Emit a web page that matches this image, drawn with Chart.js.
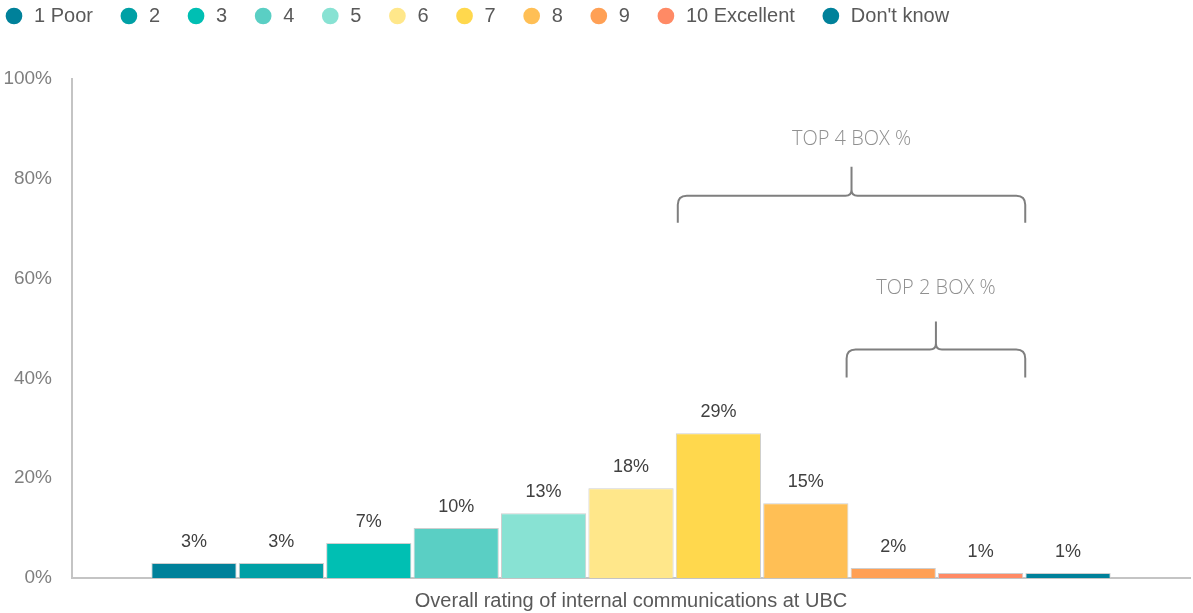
<!DOCTYPE html>
<html>
<head>
<meta charset="utf-8">
<script src="https://cdn.jsdelivr.net/npm/chart.js@4.4.1/dist/chart.umd.min.js"></script>
<style>
  html, body { margin: 0; padding: 0; background: #fff; }
  #wrap { width: 1193px; height: 613px; position: relative; }
</style>
</head>
<body>
<div id="wrap"><canvas id="ratingChart"></canvas></div>
<script>
// ---- data ----
const ratingLabels = ['1 Poor', '2', '3', '4', '5', '6', '7', '8', '9', '10 Excellent', "Don't know"];
const ratingShares = [3, 3, 7, 10, 13, 18, 29, 15, 2, 1, 1];
const ratingColors = ['#00819A', '#00A0A5', '#00BFB3', '#5ACFC4', '#88E2D3', '#FFE78A',
                      '#FFD84D', '#FFBF55', '#FFA055', '#FF8A65', '#00819A'];
const questionTitle = 'Overall rating of internal communications at UBC';
const yTicks = [0, 20, 40, 60, 80, 100];

// brace groups: first/last rating index, and levels on the % axis
const braceNames = ['TOP 4 BOX %', 'TOP 2 BOX %'];
const braceFrom = [6, 8];
const braceTo = [9, 9];
const braceLine = [76.6, 45.8];
const braceFoot = [71.2, 40.2];
const braceTip = [82.4, 51.4];
const braceText = [88, 58];

const sansFont = "'Liberation Sans', Arial, sans-serif";

// value labels above each bar
const valueLabels = {
    id: 'valueLabels',
    afterDatasetsDraw(chart) {
        const ctx = chart.ctx;
        ctx.save();
        ctx.font = '18px ' + sansFont;
        ctx.fillStyle = '#404040';
        ctx.textAlign = 'center';
        ctx.textBaseline = 'middle';
        chart.data.datasets.forEach((ds, i) => {
            const bar = chart.getDatasetMeta(i).data[0];
            ctx.fillText(ds.data[0] + '%', bar.x, bar.y - 21);
        });
        ctx.restore();
    }
};

// curly braces over the top-box groups
const boxBraces = {
    id: 'boxBraces',
    afterDraw(chart) {
        const ctx = chart.ctx;
        const y = chart.scales.y;
        const r = 9, t = 6;
        ctx.save();
        ctx.strokeStyle = '#7f7f7f';
        ctx.lineWidth = 2;
        braceNames.forEach((name, k) => {
            const a = chart.getDatasetMeta(braceFrom[k]).data[0];
            const b = chart.getDatasetMeta(braceTo[k]).data[0];
            const xL = a.x - a.width / 2 + 2 - (k === 1 ? 6 : 0);
            const xR = b.x + b.width / 2 + 2;
            const xM = (xL + xR) / 2;
            const yH = y.getPixelForValue(braceLine[k]);
            const yB = y.getPixelForValue(braceFoot[k]);
            const yT = y.getPixelForValue(braceTip[k]);
            ctx.beginPath();
            ctx.moveTo(xL, yB);
            ctx.lineTo(xL, yH + r);
            ctx.quadraticCurveTo(xL, yH, xL + r, yH);
            ctx.lineTo(xM - t, yH);
            ctx.quadraticCurveTo(xM, yH, xM, yH - t);
            ctx.lineTo(xM, yT);
            ctx.moveTo(xM, yH - t);
            ctx.quadraticCurveTo(xM, yH, xM + t, yH);
            ctx.lineTo(xR - r, yH);
            ctx.quadraticCurveTo(xR, yH, xR, yH + r);
            ctx.lineTo(xR, yB);
            ctx.stroke();

            ctx.font = "300 20px 'Open Sans', sans-serif";
            ctx.fillStyle = '#909090';
            ctx.textAlign = 'center';
            ctx.textBaseline = 'middle';
            ctx.fillText(name, xM, y.getPixelForValue(braceText[k]));
        });
        ctx.restore();
    }
};

// pull the legend to the top-left corner
const legendShift = {
    id: 'legendShift',
    afterLayout(chart) {
        chart.legend.left -= 25;
        chart.legend.top -= 43;
    }
};

const datasets = ratingLabels.map((label, i) => ({
    label: label,
    data: [ratingShares[i]],
    backgroundColor: ratingColors[i],
    borderColor: '#cfcfcf',
    borderWidth: 1,
    barPercentage: 0.975,
    categoryPercentage: 0.86
}));

new Chart(document.getElementById('ratingChart'), {
    type: 'bar',
    data: { labels: [''], datasets: datasets },
    options: {
        responsive: true,
        maintainAspectRatio: false,
        animation: false,
        layout: { padding: { left: 3, right: 3, top: 23, bottom: 0 } },
        scales: {
            x: {
                grid: { display: false, drawTicks: false },
                border: { display: true, color: '#c4c4c4', width: 2 },
                ticks: { display: false },
                title: {
                    display: true,
                    text: questionTitle,
                    color: '#595959',
                    font: { size: 20, family: sansFont },
                    padding: { top: 11, bottom: 0 }
                }
            },
            y: {
                min: 0,
                max: 100,
                afterBuildTicks: (s) => { s.ticks = yTicks.map(v => ({ value: v })); },
                afterFit: (s) => { s.width = 69; },
                grid: { display: false, drawTicks: false },
                border: { display: true, color: '#c4c4c4', width: 2 },
                ticks: {
                    padding: 20,
                    color: '#7f7f7f',
                    font: { size: 19, family: sansFont },
                    callback: (v) => v + '%'
                }
            }
        },
        plugins: {
            legend: {
                position: 'top',
                align: 'start',
                labels: {
                    usePointStyle: true,
                    pointStyle: 'circle',
                    boxWidth: 20,
                    boxHeight: 11.8,
                    padding: 26,
                    color: '#595959',
                    font: { size: 20, family: sansFont },
                    generateLabels(chart) {
                        return Chart.defaults.plugins.legend.labels.generateLabels(chart)
                            .map(item => Object.assign(item, { lineWidth: 0, strokeStyle: item.fillStyle }));
                    }
                }
            },
            tooltip: { enabled: false }
        }
    },
    plugins: [valueLabels, boxBraces, legendShift]
});
</script>
</body>
</html>
